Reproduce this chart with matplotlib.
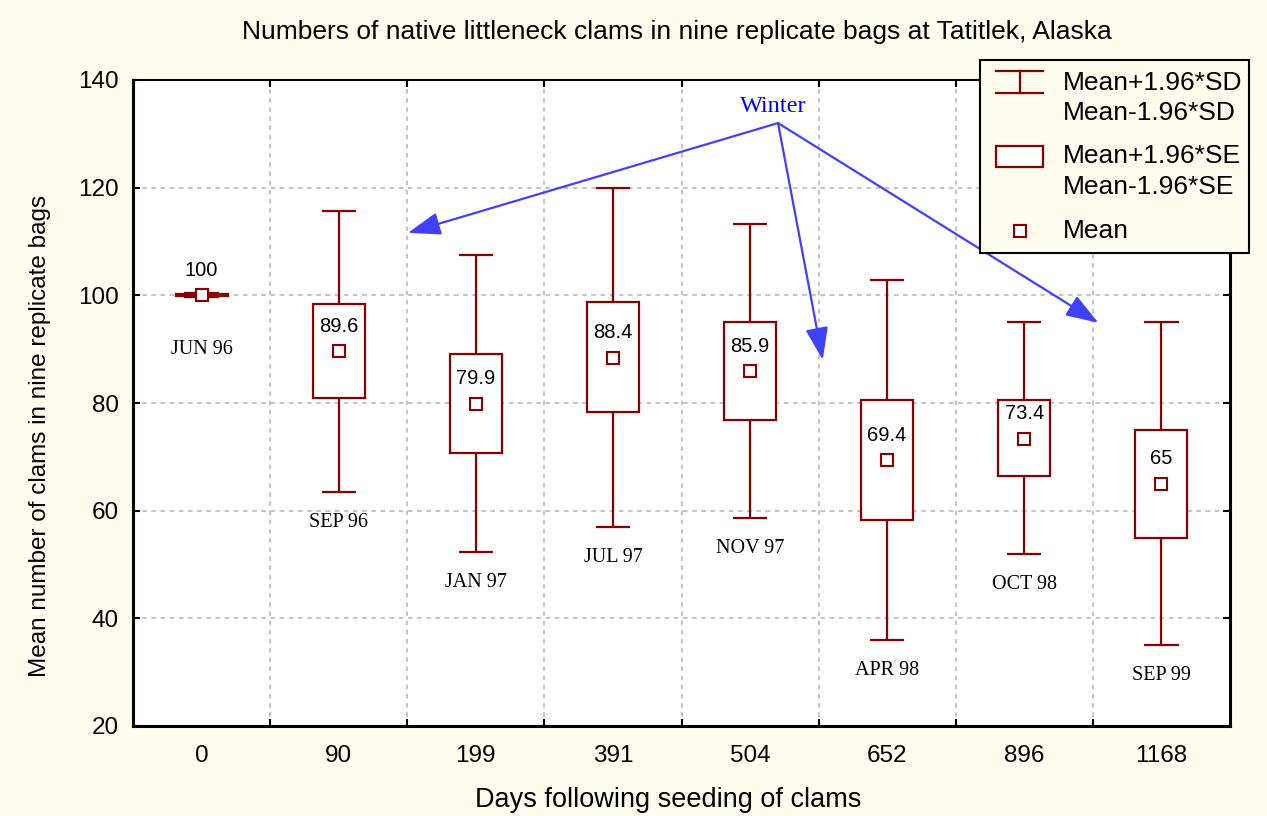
import matplotlib
matplotlib.use("Agg")
import matplotlib.pyplot as plt
from matplotlib.patches import Rectangle, FancyArrowPatch
from matplotlib.lines import Line2D

# 数据
days = ["0", "90", "199", "391", "504", "652", "896", "1168"]
dates = ["JUN 96", "SEP 96", "JAN 97", "JUL 97", "NOV 97", "APR 98", "OCT 98", "SEP 99"]
means = [100, 89.6, 79.9, 88.4, 85.9, 69.4, 73.4, 65]
sd_hi = [100.4, 115.7, 107.5, 119.9, 113.2, 102.9, 95.0, 95.0]
sd_lo = [99.7, 63.5, 52.3, 57.0, 58.6, 36.0, 51.9, 35.0]
se_hi = [100.2, 98.4, 89.1, 98.8, 95.1, 80.6, 80.6, 75.0]
se_lo = [99.9, 80.9, 70.7, 78.3, 76.8, 58.3, 66.5, 55.0]
mean_txt = ["100", "89.6", "79.9", "88.4", "85.9", "69.4", "73.4", "65"]

W, H = 1267, 816
red = "#880000"
blue_txt = "#0000FF"
blue_arr = "#4040FF"
bg = "#FFFCEE"
sans = "Liberation Sans"
serif = "Liberation Serif"


def fx(px):
    return px / W


def fy(py):
    return 1 - py / H


fig = plt.figure(figsize=(W / 100, H / 100), dpi=100, facecolor=bg)
ax = fig.add_axes([fx(133), fy(726), fx(1230) - fx(133), fy(80) - fy(726)])
ax.set_facecolor("white")

xs = list(range(len(days)))
ax.set_xlim(-0.5, len(days) - 0.5)
ax.set_ylim(20, 140)

# 网格（类别之间）
ax.set_xticks(xs)
ax.set_xticklabels(days, fontsize=17.5, family=sans)
ax.set_xticks([i + 0.5 for i in xs[:-1]], minor=True)
ax.set_yticks(range(20, 141, 20))
ax.set_yticklabels([str(v) for v in range(20, 141, 20)], fontsize=17.5, family=sans)
ax.tick_params(axis="x", which="major", length=0, pad=14)
ax.tick_params(axis="x", which="minor", direction="in", length=5, width=1.5, top=True, bottom=True)
ax.tick_params(axis="y", direction="in", length=5, width=1.5, right=True, pad=10)
ax.grid(True, which="minor", axis="x", color="#b4b4b4", linestyle=(0, (3, 3)), linewidth=1.1)
ax.grid(True, which="major", axis="y", color="#b4b4b4", linestyle=(0, (3, 3)), linewidth=1.1)
ax.set_axisbelow(True)
for s in ["left", "bottom", "right"]:
    ax.spines[s].set_linewidth(2.2)
ax.spines["top"].set_linewidth(1.5)

# 箱体与须
bw = 0.38
cw = 0.25
ax.bar(xs, [h - l for h, l in zip(se_hi, se_lo)], bottom=se_lo, width=bw,
       facecolor="white", edgecolor=red, linewidth=1.6, zorder=3)
ax.vlines(xs, se_hi, sd_hi, color=red, linewidth=1.6, zorder=3)
ax.vlines(xs, sd_lo, se_lo, color=red, linewidth=1.6, zorder=3)
ax.hlines(sd_hi, [x - cw / 2 for x in xs], [x + cw / 2 for x in xs], color=red, linewidth=1.6, zorder=3)
ax.hlines(sd_lo, [x - cw / 2 for x in xs], [x + cw / 2 for x in xs], color=red, linewidth=1.6, zorder=3)
ax.plot(xs, means, "s", markersize=8.5, markerfacecolor="white", markeredgecolor=red,
        markeredgewidth=1.5, linestyle="none", zorder=4)

for x, m, t in zip(xs, means, mean_txt):
    ax.annotate(t, (x, m), xytext=(0, 18), textcoords="offset points",
                ha="center", va="center", fontsize=14.5, family=sans, zorder=5)

for x, lo, d in zip(xs, sd_lo, dates):
    off = 38 if x == 0 else 22
    ax.annotate(d, (x, lo), xytext=(0, -off), textcoords="offset points",
                ha="center", va="center", fontsize=14.5, family=serif, zorder=5)

# Winter 标注
ax.text(4.17, 135.0, "Winter", color=blue_txt, fontsize=17.5, family=serif,
        ha="center", va="center", zorder=6)
for tx, ty in [(1.505, 111.6), (4.53, 88.0), (6.54, 94.9)]:
    ax.add_patch(FancyArrowPatch((4.204, 132.0), (tx, ty), arrowstyle="-|>,head_length=20,head_width=7",
                                 color=blue_arr, linewidth=1.6, mutation_scale=1, zorder=6,
                                 shrinkA=0, shrinkB=0))

# 标题与坐标轴标题
fig.text(fx(677), fy(32), "Numbers of native littleneck clams in nine replicate bags at Tatitlek, Alaska",
         fontsize=19, family=sans, ha="center", va="center")
fig.text(fx(668), fy(800), "Days following seeding of clams",
         fontsize=19.5, family=sans, ha="center", va="center")
fig.text(fx(40), fy(436), "Mean number of clams in nine replicate bags",
         fontsize=17.5, family=sans, ha="center", va="center", rotation=90)

# 图例（手绘）
tf = fig.transFigure
fig.patches.append(Rectangle((fx(980), fy(253)), fx(1249) - fx(980), fy(60) - fy(253),
                             transform=tf, facecolor=bg, edgecolor="black", linewidth=1.5, zorder=10))
for ly in (71, 93):
    fig.lines.append(Line2D([fx(996), fx(1043)], [fy(ly), fy(ly)], transform=tf, color=red, linewidth=1.6, zorder=11))
fig.lines.append(Line2D([fx(1020), fx(1020)], [fy(71), fy(93)], transform=tf, color=red, linewidth=1.6, zorder=11))
fig.patches.append(Rectangle((fx(996), fy(167)), fx(1043) - fx(996), fy(146) - fy(167),
                             transform=tf, facecolor="white", edgecolor=red, linewidth=1.6, zorder=11))
fig.lines.append(Line2D([fx(1020)], [fy(231)], transform=tf, marker="s", markersize=8,
                        markerfacecolor="white", markeredgecolor=red, markeredgewidth=1.5, zorder=11))
for ty, t in [(83, "Mean+1.96*SD"), (113, "Mean-1.96*SD"), (156, "Mean+1.96*SE"),
              (187, "Mean-1.96*SE"), (231, "Mean")]:
    fig.text(fx(1063), fy(ty), t, fontsize=19, family=sans, va="center", ha="left", zorder=12)

fig.savefig("out.png", dpi=100, facecolor=bg)
